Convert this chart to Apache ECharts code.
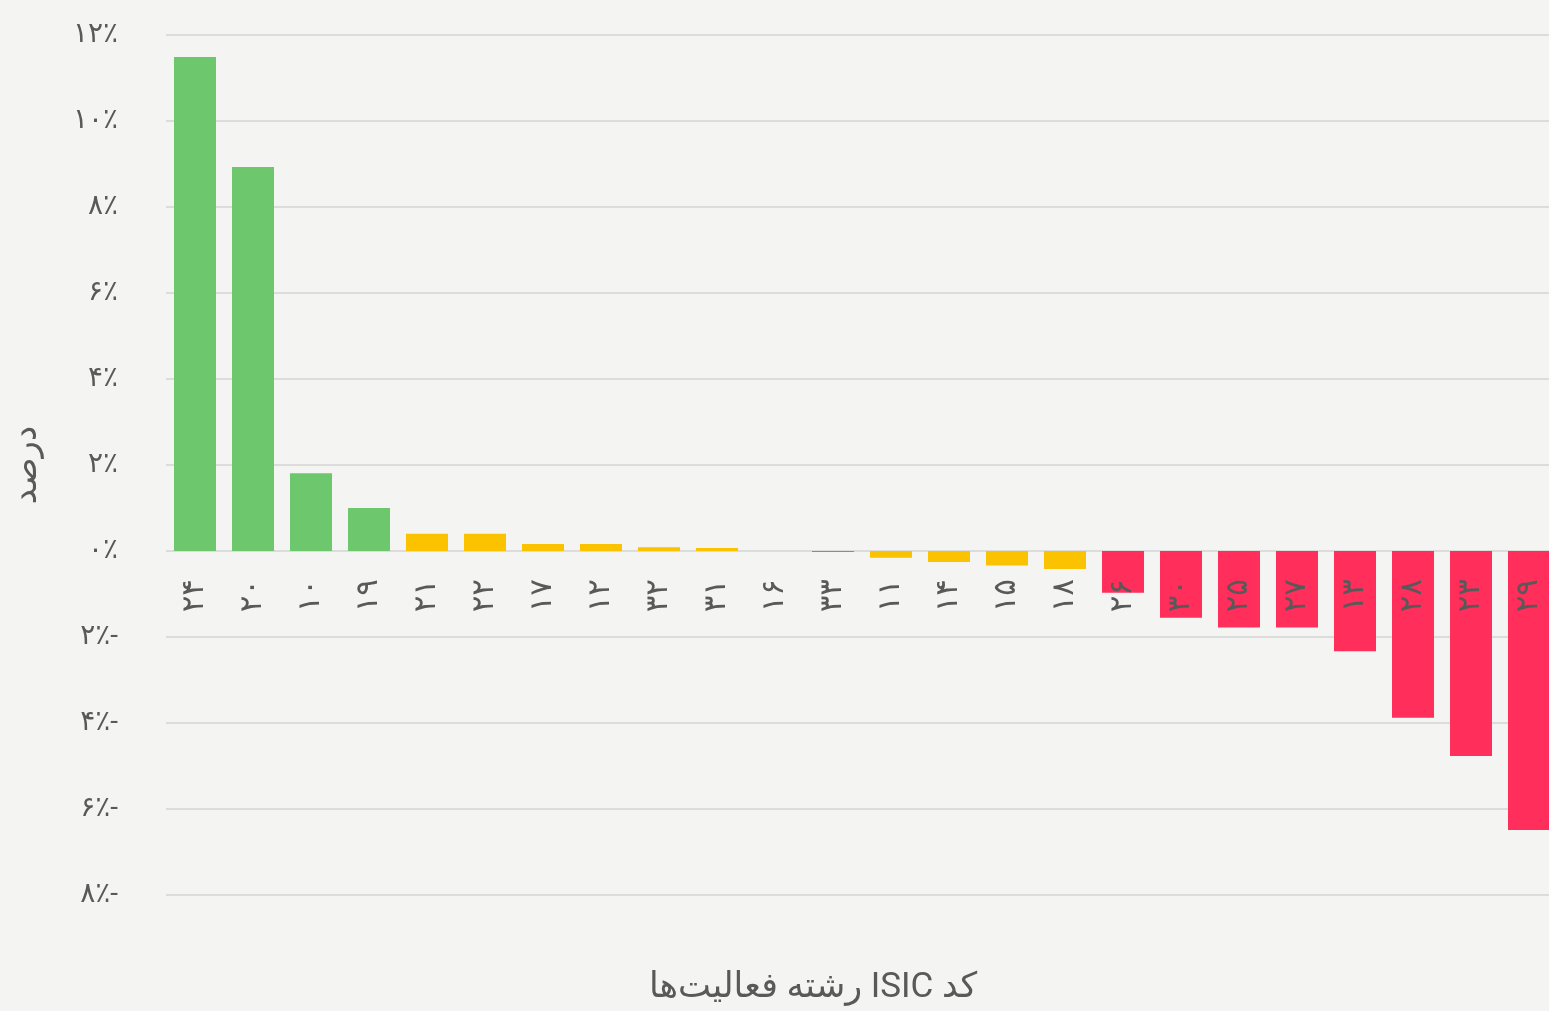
<!DOCTYPE html>
<html>
<head>
<meta charset="utf-8">
<script src="https://cdn.jsdelivr.net/npm/echarts@6/dist/echarts.min.js"></script>
<style>
html,body{margin:0;padding:0;background:#f4f4f2;}
#chart{width:1549px;height:1011px;}
</style>
</head>
<body>
<div id="chart" dir="rtl"></div>
<script>
var categories = ['۲۴','۲۰','۱۰','۱۹','۲۱','۲۲','۱۷','۱۲','۳۲','۳۱','۱۶','۳۳','۱۱','۱۴','۱۵','۱۸','۲۶','۳۰','۲۵','۲۷','۱۳','۲۸','۲۳','۲۹'];
var values = [11.49, 8.93, 1.81, 1.0, 0.40, 0.40, 0.16, 0.16, 0.09, 0.07, 0, -0.02, -0.155, -0.255, -0.34, -0.42, -0.97, -1.55, -1.78, -1.78, -2.33, -3.88, -4.77, -6.49];
var groups = ['g','g','g','g','y','y','y','y','y','y','y','r','y','y','y','y','r','r','r','r','r','r','r','r'];
var yTickValues = [-8, -6, -4, -2, 0, 2, 4, 6, 8, 10, 12];
var yTickLabels = ['-۸٪','-۶٪','-۴٪','-۲٪','۰٪','۲٪','۴٪','۶٪','۸٪','۱۰٪','۱۲٪'];
var xAxisTitle = 'کد ISIC رشته فعالیت‌ها';
var yAxisTitle = 'درصد';

var colorMap = {g:'#6dc76d', y:'#fbc200', r:'#ff2e5a'};
var font = "Roboto, 'DejaVu Sans', sans-serif";
var yMin = -8, yMax = 12, gridTop = 35, gridHeight = 860;
// place the category axis labels on the zero line
var zeroOffset = -gridHeight * (0 - yMin) / (yMax - yMin);

var chart = echarts.init(document.getElementById('chart'), null, {renderer:'canvas'});
chart.setOption({
  backgroundColor:'#f4f4f2',
  animation:false,
  title:{
    text:xAxisTitle, left:808, top:966, textAlign:'center',
    textStyle:{fontSize:35, fontWeight:'normal', color:'#595959', fontFamily:font}
  },
  grid:{left:166, top:gridTop, width:1392, height:gridHeight, containLabel:false, outerBoundsMode:'none'},
  xAxis:{
    type:'category',
    data:categories,
    offset:zeroOffset,
    z:5,
    axisLine:{show:false, onZero:false},
    axisTick:{show:false},
    axisLabel:{rotate:90, margin:28, fontSize:31, color:'#595959', fontFamily:font}
  },
  yAxis:{
    type:'value',
    min:yMin, max:yMax, interval:2,
    axisLine:{show:false},
    axisTick:{show:false},
    splitLine:{lineStyle:{color:'#dcdcdc', width:2}},
    axisLabel:{
      margin:48, fontSize:28, color:'#595959', fontFamily:font,
      formatter:function(v){ var i = yTickValues.indexOf(v); return i>=0 ? yTickLabels[i] : ''; }
    },
    name:yAxisTitle,
    nameLocation:'middle',
    nameRotate:90,
    nameGap:122,
    nameTextStyle:{fontSize:34, color:'#595959', fontFamily:font}
  },
  series:[{
    type:'bar',
    barWidth:42,
    z:2,
    data:values.map(function(v,i){ return {value:v, itemStyle:{color:colorMap[groups[i]]}}; })
  }]
});
</script>
</body>
</html>
